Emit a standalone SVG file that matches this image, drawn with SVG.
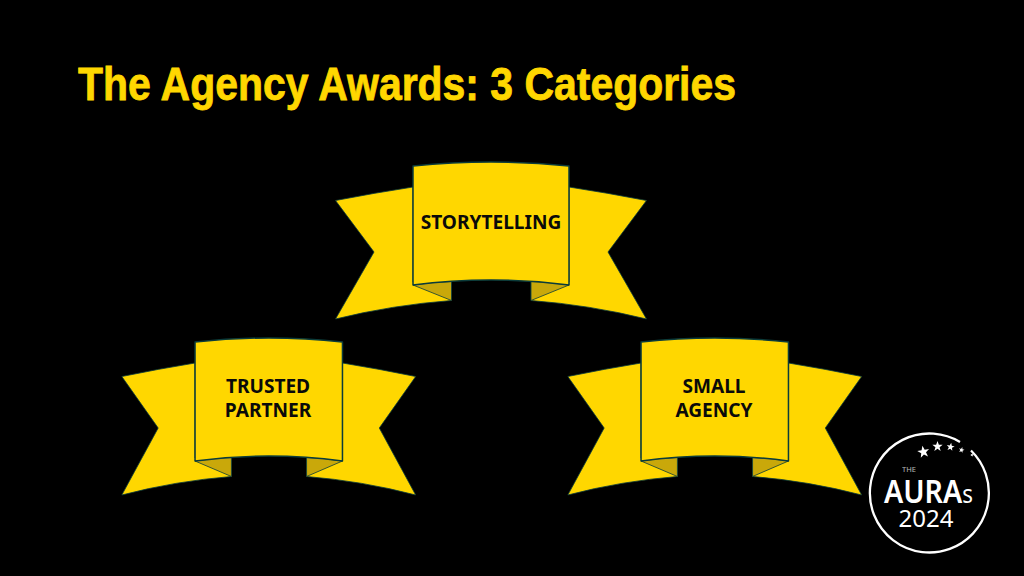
<svg xmlns="http://www.w3.org/2000/svg" width="1024" height="576" viewBox="0 0 1024 576">
<style>
.title{font:bold 47px "Liberation Sans",sans-serif;fill:#ffd700;stroke:#ffd700;stroke-width:.8}
.lab{font:bold 19.100px "Noto Sans","Open Sans",sans-serif;fill:#0a0a0a;text-anchor:middle}
.y{fill:#ffd700}
.e{stroke:#0b3b3a;stroke-width:1.500;stroke-linejoin:round;vector-effect:non-scaling-stroke}
.t{stroke:#0b3b3a;stroke-width:.8;stroke-linejoin:round;vector-effect:non-scaling-stroke}
.f{fill:#c9a80a}
.w{fill:#fff}
.lg{font-family:"Noto Sans","Open Sans",sans-serif;fill:#fff}
</style>
<defs>
<g id="ribbon">
<path class="y t" d="M335.500 200.500Q374 193 413 187V282H451.500V300.500Q392 305 335.500 319L374 252Z"/>
<path class="y t" d="M646.500 200.500Q608 193 569 187V282H531V300.500Q590 305 646.500 319L608 252Z"/>
<path class="f t" d="M413 285Q432 282 451.500 281.500V300.500Z"/>
<path class="f t" d="M569 285Q550 282 531 281.500V300.500Z"/>
<path class="y e" d="M413 166Q491 158 569 166V285Q491 275 413 285Z"/>
</g>
<polygon id="star" points="0,-6 1.500,-1.900 5.700,-1.900 2.300,.7 3.500,4.900 0,2.400 -3.500,4.900 -2.300,.7 -5.700,-1.900 -1.500,-1.900"/>
</defs>
<rect width="1024" height="576" fill="#000"/>
<text class="title" x="78" y="100" textLength="658" lengthAdjust="spacingAndGlyphs">The Agency Awards: 3 Categories</text>
<g id="node-storytelling">
<use href="#ribbon"/>
<text class="lab" x="491" y="229">STORYTELLING</text>
</g>
<g id="node-trusted-partner">
<use href="#ribbon" transform="translate(121.800 176) scale(.945 1) translate(-335.500 0)"/>
<text class="lab" x="268" y="393">TRUSTED</text>
<text class="lab" x="268" y="417">PARTNER</text>
</g>
<g id="node-small-agency">
<use href="#ribbon" transform="translate(567.800 176) scale(.945 1) translate(-335.500 0)"/>
<text class="lab" x="714" y="393">SMALL</text>
<text class="lab" x="714" y="417">AGENCY</text>
</g>
<g id="connectors"/>
<g id="node-logo">
<path fill="none" stroke="#fff" stroke-width="2.300" d="M971 450.500A59.500 59.500 0 1 1 960 442"/>
<use href="#star" class="w" transform="translate(923.500 452) rotate(-10) scale(1.050)"/>
<use href="#star" class="w" transform="translate(937.500 446.500) scale(.9)"/>
<use href="#star" class="w" transform="translate(950.500 447) rotate(10) scale(.7)"/>
<use href="#star" class="w" transform="translate(961.500 450) rotate(15) scale(.5)"/>
<use href="#star" class="w" transform="translate(972 455) rotate(20) scale(.3)"/>
<text class="lg" x="902" y="472" font-size="7.500" style="opacity:.7">THE</text>
<text class="lg" x="884" y="503" font-size="32" font-weight="600" textLength="89" lengthAdjust="spacingAndGlyphs">AURA<tspan font-size="25" font-weight="400">s</tspan></text>
<text class="lg" x="898.500" y="526.500" font-size="24">2024</text>
</g>
</svg>
